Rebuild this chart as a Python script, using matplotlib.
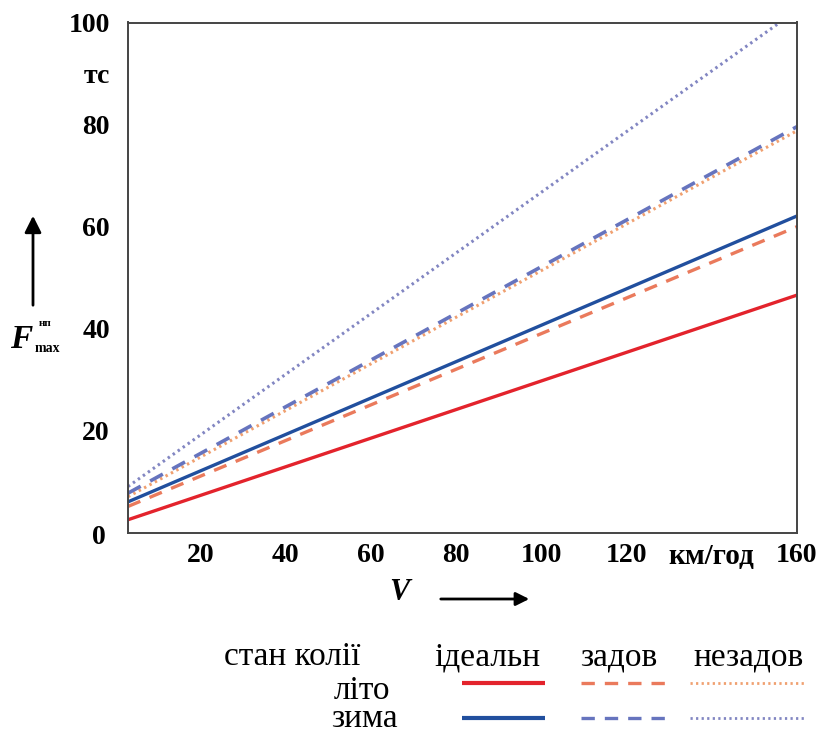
import matplotlib
matplotlib.use("Agg")
import matplotlib.pyplot as plt
from matplotlib.lines import Line2D
from matplotlib.patches import FancyArrowPatch

plt.rcParams['font.family'] = ['Liberation Serif', 'DejaVu Serif']

# Speed range, km/h (end points of each straight characteristic)
speed = [3, 160]

# Maximum force, tc
summer_ideal = [2.6, 46.6]
summer_sag = [5.2, 60.0]
summer_nosag = [7.1, 78.8]
winter_ideal = [6.1, 62.1]
winter_sag = [7.8, 79.6]
winter_nosag = [9.1, 102.4]

x_ticks = [20, 40, 60, 80, 100, 120, 140, 160]
x_tick_labels = ["20", "40", "60", "80", "100", "120", "км/год", "160"]
y_ticks = [20, 40, 60, 80, 90, 100]
y_tick_labels = ["20", "40", "60", "80", "тс", "100"]

legend_header = ["стан колії", "ідеальн", "задов", "незадов"]
legend_rows = ["літо", "зима"]

RED = "#e3232c"
ORANGE = "#ea7a5c"
ORANGE_DOT = "#f0a070"
BLUE = "#214f9e"
BLUE_DASH = "#6674be"
BLUE_DOT = "#8286c2"

W, H = 827, 733
fig = plt.figure(figsize=(W / 100, H / 100), dpi=100)


def fx(px):
    return px / W


def fy(py):
    return 1 - py / H


ax = fig.add_axes([fx(128), fy(533), fx(797) - fx(128), fy(22.5) - fy(533)])

dash = (0, (4, 3))
dot = (0, (0.8, 1.2))
styles = [
    (summer_ideal, RED, "-", 2.4),
    (summer_sag, ORANGE, dash, 2.4),
    (summer_nosag, ORANGE_DOT, dot, 2.2),
    (winter_ideal, BLUE, "-", 2.4),
    (winter_sag, BLUE_DASH, dash, 2.6),
    (winter_nosag, BLUE_DOT, dot, 2.2),
]
for vals, col, ls, lw in styles:
    ax.plot(speed, vals, color=col, linestyle=ls, linewidth=lw,
            solid_capstyle="butt", dash_capstyle="butt")

ax.set_xlim(3, 160)
ax.set_ylim(0, 100)
ax.set_xticks(x_ticks)
ax.set_xticklabels(x_tick_labels)
ax.set_yticks(y_ticks)
ax.set_yticklabels(y_tick_labels)
ax.tick_params(length=0, labelsize=20)
ax.tick_params(axis="x", pad=7)
ax.tick_params(axis="y", pad=13)
for lab in ax.get_xticklabels() + ax.get_yticklabels():
    lab.set_fontweight("bold")
ax.get_xticklabels()[6].set_fontsize(21)
for sp in ax.spines.values():
    sp.set_color("#444444")
    sp.set_linewidth(1.4)

# origin label
fig.text(fx(99), fy(538), "0", fontsize=20, fontweight="bold",
         ha="center", va="center")

# axis titles with arrows
fig.text(fx(399), fy(592), "V", fontsize=22, fontstyle="italic",
         fontweight="bold", ha="center", va="center")
fig.add_artist(FancyArrowPatch(
    (fx(438), fy(599)), (fx(532), fy(599)), transform=fig.transFigure,
    arrowstyle="-|>,head_length=8,head_width=4", color="black", lw=2))

fig.text(fx(21), fy(340), "F", fontsize=24, fontstyle="italic",
         fontweight="bold", ha="center", va="center")
fig.text(fx(45), fy(324), "нп", fontsize=8, fontweight="bold",
         ha="center", va="center")
fig.text(fx(47), fy(349), "max", fontsize=10, fontweight="bold",
         ha="center", va="center")
fig.add_artist(FancyArrowPatch(
    (fx(33), fy(308)), (fx(33), fy(213)), transform=fig.transFigure,
    arrowstyle="-|>,head_length=10,head_width=5", color="black", lw=2))

# legend table
header_x = [292, 487, 619, 749]
for txt, x in zip(legend_header, header_x):
    fig.text(fx(x), fy(657), txt, fontsize=24, ha="center", va="center")
fig.text(fx(362), fy(691), legend_rows[0], fontsize=24, ha="center", va="center")
fig.text(fx(364), fy(719), legend_rows[1], fontsize=24, ha="center", va="center")

row_y = [683, 718]
row_styles = [
    [(RED, "-", 3.0), (ORANGE, dash, 2.4), (ORANGE_DOT, dot, 2.0)],
    [(BLUE, "-", 3.0), (BLUE_DASH, dash, 2.4), (BLUE_DOT, dot, 2.0)],
]
seg_x = [(462, 545), (581, 672), (690, 806)]
for yy, row in zip(row_y, row_styles):
    for (x0, x1), (col, ls, lw) in zip(seg_x, row):
        fig.add_artist(Line2D([fx(x0), fx(x1)], [fy(yy), fy(yy)],
                              transform=fig.transFigure, color=col,
                              linestyle=ls, linewidth=lw,
                              solid_capstyle="butt", dash_capstyle="butt"))

fig.savefig("out.png", dpi=100, facecolor="white")
